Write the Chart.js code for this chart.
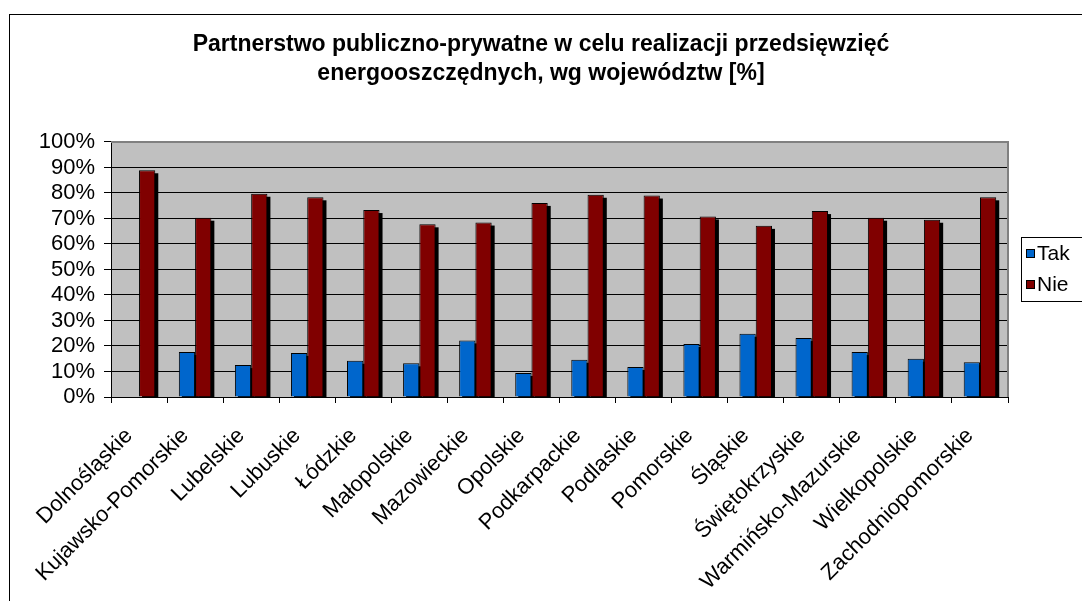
<!DOCTYPE html>
<html lang="pl">
<head>
<meta charset="utf-8">
<title>Partnerstwo publiczno-prywatne wg województw</title>
<script src="https://cdn.jsdelivr.net/npm/chart.js@4.4.1/dist/chart.umd.min.js"></script>
<style>
  html, body { margin: 0; padding: 0; background: #fff; overflow: hidden; }
  #chart { display: block; }
</style>
</head>
<body>
<canvas id="chart" width="1082" height="601"></canvas>
<script>
// --- Dane ---
const regions = [
  "Dolnośląskie", "Kujawsko-Pomorskie", "Lubelskie", "Lubuskie", "Łódzkie",
  "Małopolskie", "Mazowieckie", "Opolskie", "Podkarpackie", "Podlaskie",
  "Pomorskie", "Śląskie", "Świętokrzyskie", "Warmińsko-Mazurskie",
  "Wielkopolskie", "Zachodniopomorskie"
];
const takValues = [0, 17.6, 12.5, 17.3, 14.2, 13.2, 22.2, 9.4, 14.6, 11.8, 20.8, 24.8, 23.1, 17.6, 15.0, 13.6];
const nieValues = [88.9, 70.3, 79.7, 78.3, 73.3, 67.7, 68.4, 76.1, 79.3, 79.0, 70.8, 67.1, 72.9, 70.3, 69.5, 78.3];
const yTicks = [0, 10, 20, 30, 40, 50, 60, 70, 80, 90, 100];
const seriesNames = ["Tak", "Nie"];
const seriesColors = ["#0066CC", "#800000"];
const titleLines = [
  "Partnerstwo publiczno-prywatne w celu realizacji przedsięwzięć",
  "energooszczędnych, wg województw [%]"
];

const FONT = "'Liberation Sans', Arial, sans-serif";
Chart.defaults.font.family = FONT;
Chart.defaults.font.size = 22;
Chart.defaults.color = "#000";

// --- Tło obszaru wykresu, cienie słupków, ramki, legenda ---
const excelLook = {
  id: "excelLook",
  beforeDraw(chart) {
    const { ctx, chartArea: a } = chart;
    ctx.save();
    ctx.fillStyle = "#C0C0C0";
    ctx.fillRect(a.left, a.top, a.right - a.left, a.bottom - a.top);
    ctx.restore();
  },
  beforeDatasetsDraw(chart) {
    const { ctx, chartArea: a } = chart;
    ctx.save();
    ctx.beginPath();
    ctx.rect(a.left, a.top, a.right - a.left, a.bottom - a.top);
    ctx.clip();
    ctx.fillStyle = "#000";
    chart.data.datasets.forEach((ds, i) => {
      chart.getDatasetMeta(i).data.forEach((bar, j) => {
        if (!ds.data[j]) return;
        const { x, y, base, width } = bar.getProps(["x", "y", "base", "width"], true);
        ctx.fillRect(x - width / 2 + 3, y + 3, width, base - y);
      });
    });
    ctx.restore();
  },
  afterDraw(chart) {
    const { ctx, chartArea: a } = chart;
    ctx.save();
    // ramka obszaru wykresu (góra i prawa strona)
    ctx.strokeStyle = "#808080";
    ctx.lineWidth = 2;
    ctx.beginPath();
    ctx.moveTo(a.left, a.top);
    ctx.lineTo(a.right, a.top);
    ctx.lineTo(a.right, a.bottom);
    ctx.stroke();
    // ramka całego wykresu
    ctx.strokeStyle = "#000";
    ctx.lineWidth = 1;
    ctx.strokeRect(9.5, 14.5, 1200, 700);
    // legenda
    ctx.fillStyle = "#fff";
    ctx.fillRect(1021.5, 237.5, 120, 64);
    ctx.strokeRect(1021.5, 237.5, 120, 64);
    ctx.font = "21px " + FONT;
    ctx.textBaseline = "middle";
    chart.data.datasets.forEach((ds, i) => {
      const y = 249 + i * 31;
      ctx.fillStyle = ds.backgroundColor;
      ctx.fillRect(1026.5, y + 0.5, 8, 8);
      ctx.strokeStyle = "#000";
      ctx.strokeRect(1026.5, y + 0.5, 8, 8);
      ctx.fillStyle = "#000";
      ctx.fillText(ds.label, 1037, y + 5);
    });
    ctx.restore();
  }
};

new Chart(document.getElementById("chart"), {
  type: "bar",
  data: {
    labels: regions,
    datasets: [
      { label: seriesNames[0], data: takValues, backgroundColor: seriesColors[0] },
      { label: seriesNames[1], data: nieValues, backgroundColor: seriesColors[1] }
    ]
  },
  options: {
    responsive: false,
    animation: false,
    layout: { padding: 0 },
    datasets: {
      bar: {
        borderColor: "#000",
        borderWidth: 1,
        categoryPercentage: 0.58,
        barPercentage: 1.0
      }
    },
    plugins: {
      legend: { display: false },
      tooltip: { enabled: false },
      title: {
        display: true,
        text: titleLines,
        color: "#000",
        font: { size: 23, weight: "bold", lineHeight: 1.26 },
        padding: { top: 30, bottom: 54 }
      }
    },
    scales: {
      x: {
        offset: true,
        grid: {
          offset: true,
          drawOnChartArea: false,
          drawTicks: true,
          tickLength: 6,
          tickColor: "#000"
        },
        border: { color: "#000", width: 1 },
        ticks: {
          autoSkip: false,
          minRotation: 45,
          maxRotation: 45,
          padding: 20,
          labelOffset: -10,
          font: { size: 22 }
        },
        afterFit(scale) { scale.height = 204; }
      },
      y: {
        min: 0,
        max: 100,
        grid: {
          color: "#000",
          lineWidth: 1,
          tickLength: 7,
          tickColor: "#000"
        },
        border: { color: "#000", width: 1 },
        ticks: {
          autoSkip: false,
          padding: 9,
          font: { size: 22 },
          callback: (v) => v + "%"
        },
        afterBuildTicks(scale) { scale.ticks = yTicks.map((v) => ({ value: v })); },
        afterFit(scale) { scale.width = 111; }
      },
      // miejsce na legendę po prawej stronie
      legendSpace: {
        type: "linear",
        position: "right",
        grid: { display: false },
        border: { display: false },
        ticks: { display: false },
        afterFit(scale) { scale.width = 74; }
      }
    }
  },
  plugins: [excelLook]
});
</script>
</body>
</html>
